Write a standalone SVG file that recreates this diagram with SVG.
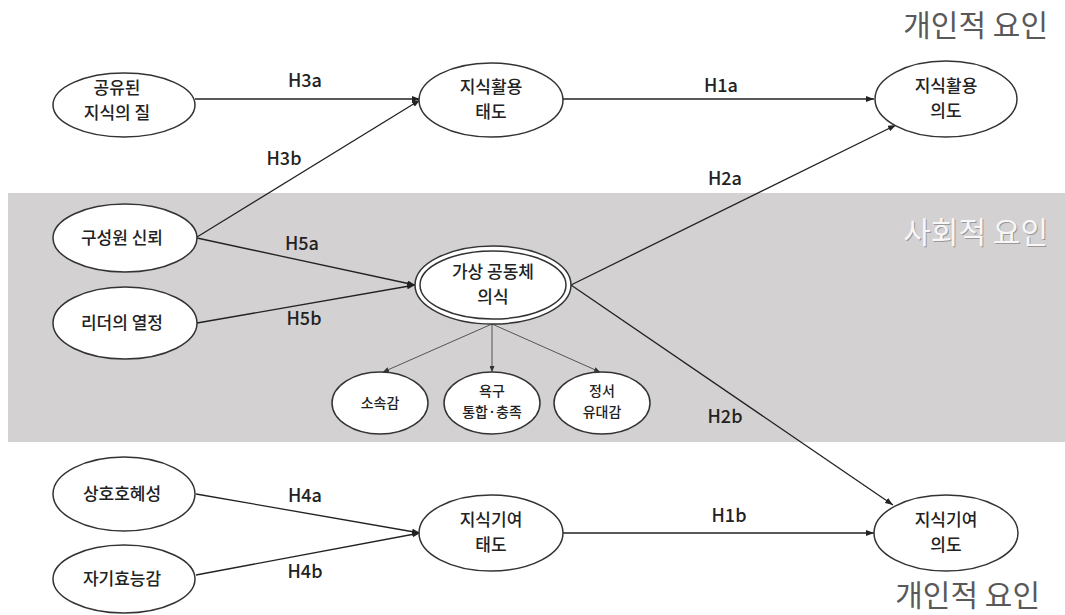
<svg xmlns="http://www.w3.org/2000/svg" width="1065" height="615" viewBox="0 0 1065 615">
<style>
.bg{fill:#ffffff}
.band{fill:#d3d1d2}
.node{fill:#ffffff;stroke:#333333;stroke-width:1.5}
.t{font-family:"Noto Sans CJK KR","Noto Sans",sans-serif;font-size:17px;font-weight:500;fill:#222222;text-anchor:middle}
.ts{font-family:"Noto Sans CJK KR","Noto Sans",sans-serif;font-size:14px;font-weight:500;fill:#222222;text-anchor:middle}
.lbl{font-family:"Noto Sans CJK KR","Noto Sans",sans-serif;font-size:18px;font-weight:500;fill:#222222;text-anchor:middle}
.grp{font-family:"Noto Sans CJK KR","Noto Sans",sans-serif;font-size:30px;fill:#595959;text-anchor:end}
.grpw{font-family:"Noto Sans CJK KR","Noto Sans",sans-serif;font-size:30px;fill:#f7f7f7;text-anchor:end}
.grps{font-family:"Noto Sans CJK KR","Noto Sans",sans-serif;font-size:30px;fill:#9a9899;text-anchor:end}
.e{fill:none;stroke:#222222;stroke-width:1.3}
.es{fill:none;stroke:#555555;stroke-width:1}
</style>
<defs>
<marker id="ah" viewBox="0 0 8 6" refX="8" refY="3" markerWidth="8" markerHeight="6" markerUnits="userSpaceOnUse" orient="auto">
<path d="M0,0 L8,3 L0,6 z" fill="#222222"/>
</marker>
<marker id="ahs" viewBox="0 0 6 5" refX="6" refY="2.5" markerWidth="6" markerHeight="5" markerUnits="userSpaceOnUse" orient="auto">
<path d="M0,0 L6,2.5 L0,5 z" fill="#333333"/>
</marker>
</defs>
<rect class="bg" x="0" y="0" width="1065" height="615"/>
<rect class="band" x="8" y="193" width="1057" height="249"/>

<text class="grp" x="1048" y="36">개인적 요인</text>
<text class="grps" x="1049" y="244">사회적 요인</text>
<text class="grpw" x="1048" y="243">사회적 요인</text>
<text class="grp" x="1040" y="606">개인적 요인</text>

<g id="connectors">
<line class="e" x1="195" y1="99" x2="420" y2="99" marker-end="url(#ah)"/>
<line class="e" x1="197" y1="237" x2="420" y2="100" marker-end="url(#ah)"/>
<line class="e" x1="563" y1="99" x2="874" y2="99" marker-end="url(#ah)"/>
<line class="e" x1="571" y1="285" x2="896" y2="125" marker-end="url(#ah)"/>
<line class="e" x1="197" y1="238" x2="415" y2="285" marker-end="url(#ah)"/>
<line class="e" x1="197" y1="323" x2="415" y2="285" marker-end="url(#ah)"/>
<line class="e" x1="571" y1="285" x2="893" y2="505" marker-end="url(#ah)"/>
<line class="e" x1="196" y1="494" x2="420" y2="533" marker-end="url(#ah)"/>
<line class="e" x1="196" y1="575" x2="420" y2="533" marker-end="url(#ah)"/>
<line class="e" x1="563" y1="533" x2="874" y2="533" marker-end="url(#ah)"/>
<line class="es" x1="492" y1="324" x2="383" y2="372" marker-end="url(#ahs)"/>
<line class="es" x1="492" y1="324" x2="492" y2="372" marker-end="url(#ahs)"/>
<line class="es" x1="492" y1="324" x2="600" y2="372" marker-end="url(#ahs)"/>
<text class="lbl" x="305" y="87">H3a</text>
<text class="lbl" x="284" y="165">H3b</text>
<text class="lbl" x="721" y="92">H1a</text>
<text class="lbl" x="725" y="185">H2a</text>
<text class="lbl" x="302" y="250">H5a</text>
<text class="lbl" x="304" y="325">H5b</text>
<text class="lbl" x="725" y="423">H2b</text>
<text class="lbl" x="305" y="502">H4a</text>
<text class="lbl" x="305" y="578">H4b</text>
<text class="lbl" x="729" y="522">H1b</text>
</g>

<g id="n-shared">
<ellipse class="node" cx="124" cy="105" rx="71" ry="32"/>
<text class="t" x="117" y="94">공유된</text>
<text class="t" x="117" y="119">지식의 질</text>
</g>
<g id="n-trust">
<ellipse class="node" cx="125" cy="238" rx="72" ry="34"/>
<text class="t" x="122" y="244">구성원 신뢰</text>
</g>
<g id="n-leader">
<ellipse class="node" cx="125" cy="323" rx="72" ry="36"/>
<text class="t" x="122" y="329">리더의 열정</text>
</g>
<g id="n-recip">
<ellipse class="node" cx="124" cy="494" rx="71" ry="37"/>
<text class="t" x="122" y="500">상호호혜성</text>
</g>
<g id="n-eff">
<ellipse class="node" cx="124" cy="579" rx="71" ry="34"/>
<text class="t" x="122" y="585">자기효능감</text>
</g>
<g id="n-use-att">
<ellipse class="node" cx="491" cy="100" rx="72" ry="37"/>
<text class="t" x="491" y="93">지식활용</text>
<text class="t" x="491" y="118">태도</text>
</g>
<g id="n-use-int">
<ellipse class="node" cx="946" cy="99" rx="71" ry="38"/>
<text class="t" x="946" y="92">지식활용</text>
<text class="t" x="946" y="117">의도</text>
</g>
<g id="n-vc">
<ellipse class="node" cx="493" cy="285" rx="78" ry="39"/>
<ellipse class="node" cx="493" cy="285" rx="73" ry="34"/>
<text class="t" x="493" y="278">가상 공동체</text>
<text class="t" x="493" y="303">의식</text>
</g>
<g id="n-belong">
<ellipse class="node" cx="380" cy="403" rx="48" ry="31" stroke-width="1"/>
<text class="ts" x="380" y="408">소속감</text>
</g>
<g id="n-need">
<ellipse class="node" cx="492" cy="403" rx="48" ry="31" stroke-width="1"/>
<text class="ts" x="492" y="396">욕구</text>
<text class="ts" x="492" y="417">통합·충족</text>
</g>
<g id="n-emo">
<ellipse class="node" cx="602" cy="403" rx="48" ry="31" stroke-width="1"/>
<text class="ts" x="602" y="396">정서</text>
<text class="ts" x="602" y="417">유대감</text>
</g>
<g id="n-con-att">
<ellipse class="node" cx="491" cy="533" rx="72" ry="38"/>
<text class="t" x="491" y="526">지식기여</text>
<text class="t" x="491" y="551">태도</text>
</g>
<g id="n-con-int">
<ellipse class="node" cx="946" cy="533" rx="72" ry="38"/>
<text class="t" x="946" y="526">지식기여</text>
<text class="t" x="946" y="551">의도</text>
</g>
</svg>
